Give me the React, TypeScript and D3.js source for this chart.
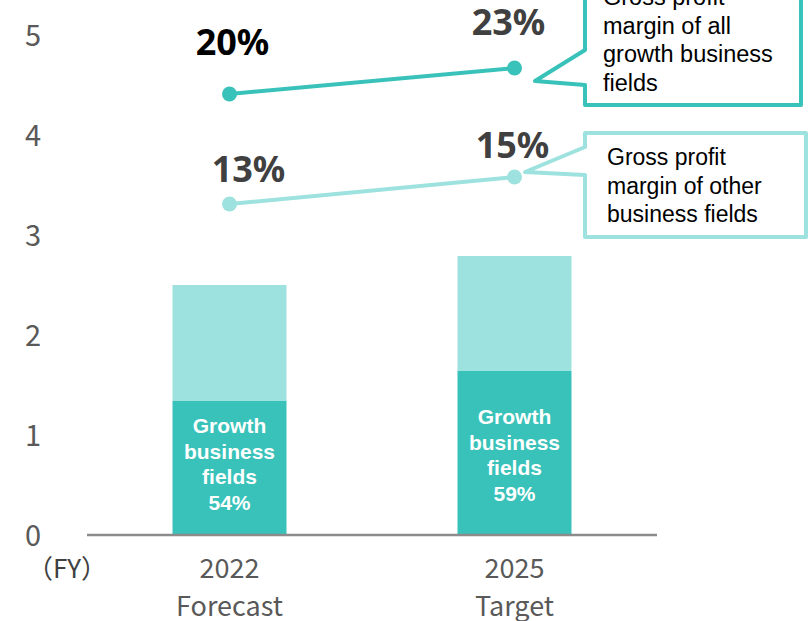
import React from "react";
import * as d3 from "d3";

// ---- data ----
const categories = ["2022", "2025"];
const categorySub = ["Forecast", "Target"];
const growthValues = [1.35, 1.65];
const otherValues = [1.16, 1.15];
const growthShareLabels = ["54%", "59%"];
const marginGrowthPos = [4.42, 4.68];
const marginGrowthLabels = ["20%", "23%"];
const marginOtherPos = [3.32, 3.59];
const marginOtherLabels = ["13%", "15%"];
const yTicks = [0, 1, 2, 3, 4, 5];
const calloutGrowthText = ["Gross profit", "margin of all", "growth business", "fields"];
const calloutOtherText = ["Gross profit", "margin of other", "business fields"];

// ---- style / layout ----
const W = 810;
const H = 621;
const DARK = "#38C2B9";
const LIGHT = "#9DE2DE";
const AXIS_FONT = "'Noto Sans CJK JP', 'Noto Sans', sans-serif";
const PCT_FONT = "'Noto Sans', 'Open Sans', sans-serif";
const TXT_FONT = "'Liberation Sans', Arial, sans-serif";
const growthLabelOffset = [
  { dx: 3, dy: -39, color: "#000000" },
  { dx: -6, dy: -33, color: "#404040" },
];
const otherLabelOffset = [
  { dx: 19, dy: -22, color: "#404040" },
  { dx: -2, dy: -19, color: "#404040" },
];
const innerLabelTop = [433, 424];

export default function App() {
  const x = d3.scalePoint<string>().domain(categories).range([87, 657]).padding(0.5);
  const step = x.step();
  const barW = step * 0.4;
  const y = d3.scaleLinear().domain([0, 5]).range([536, 36]);

  const lineGen = d3
    .line<[string, number]>()
    .x((d) => x(d[0]) as number)
    .y((d) => y(d[1]));

  const growthPts: [string, number][] = categories.map((c, i) => [c, marginGrowthPos[i]]);
  const otherPts: [string, number][] = categories.map((c, i) => [c, marginOtherPos[i]]);

  return (
    <svg
      width={W}
      height={H}
      viewBox={`0 0 ${W} ${H}`}
      style={{ position: "absolute", left: 0, top: 0, background: "#fff" }}
    >
      <rect x={0} y={0} width={W} height={H} fill="#ffffff" />
      {/* y tick labels */}
      {yTicks.map((t) => (
        <text
          key={t}
          x={33}
          y={y(t)}
          dy="0.36em"
          textAnchor="middle"
          fontFamily={AXIS_FONT}
          fontSize={29}
          fill="#595959"
        >
          {t}
        </text>
      ))}

      {/* bars */}
      {categories.map((c, i) => {
        const cx = x(c) as number;
        const g = growthValues[i];
        const o = otherValues[i];
        return (
          <g key={c}>
            <rect x={cx - barW / 2} y={y(g + o)} width={barW} height={y(g) - y(g + o)} fill={LIGHT} />
            <rect x={cx - barW / 2} y={y(g)} width={barW} height={y(0) - y(g)} fill={DARK} />
            {["Growth", "business", "fields", growthShareLabels[i]].map((s, k) => (
              <text
                key={k}
                x={cx}
                y={innerLabelTop[i] + k * 25.5}
                textAnchor="middle"
                fontFamily={TXT_FONT}
                fontWeight={700}
                fontSize={21}
                fill="#ffffff"
              >
                {s}
              </text>
            ))}
          </g>
        );
      })}

      {/* axis line */}
      <line x1={87} x2={657} y1={y(0) - 1} y2={y(0) - 1} stroke="#8C8C8C" strokeWidth={2.5} />

      {/* x labels */}
      <text x={67} y={578} textAnchor="middle" fontFamily={AXIS_FONT} fontSize={26} fill="#404040">
        （FY）
      </text>
      {categories.map((c, i) => (
        <g key={c}>
          <text x={x(c)} y={578} textAnchor="middle" fontFamily={AXIS_FONT} fontSize={27} fill="#595959">
            {c}
          </text>
          <text x={x(c)} y={616} textAnchor="middle" fontFamily={AXIS_FONT} fontSize={27} fill="#595959">
            {categorySub[i]}
          </text>
        </g>
      ))}

      {/* margin lines */}
      <path d={lineGen(growthPts) || ""} fill="none" stroke={DARK} strokeWidth={4} />
      <path d={lineGen(otherPts) || ""} fill="none" stroke={LIGHT} strokeWidth={4} />
      {growthPts.map((p, i) => (
        <circle key={"g" + i} cx={x(p[0])} cy={y(p[1])} r={7.5} fill={DARK} />
      ))}
      {otherPts.map((p, i) => (
        <circle key={"o" + i} cx={x(p[0])} cy={y(p[1])} r={7.5} fill={LIGHT} />
      ))}
      {growthPts.map((p, i) => (
        <text
          key={"gl" + i}
          x={(x(p[0]) as number) + growthLabelOffset[i].dx}
          y={y(p[1]) + growthLabelOffset[i].dy}
          textAnchor="middle"
          fontFamily={PCT_FONT}
          fontWeight={700}
          fontSize={36}
          fill={growthLabelOffset[i].color}
        >
          {marginGrowthLabels[i]}
        </text>
      ))}
      {otherPts.map((p, i) => (
        <text
          key={"ol" + i}
          x={(x(p[0]) as number) + otherLabelOffset[i].dx}
          y={y(p[1]) + otherLabelOffset[i].dy}
          textAnchor="middle"
          fontFamily={PCT_FONT}
          fontWeight={700}
          fontSize={36}
          fill={otherLabelOffset[i].color}
        >
          {marginOtherLabels[i]}
        </text>
      ))}

      {/* callout: growth */}
      <path
        d="M585,-60 L801,-60 L801,105 L585,105 L585,85 L535,81 L585,50 Z"
        fill="#ffffff"
        stroke={DARK}
        strokeWidth={4}
        strokeLinejoin="round"
      />
      {calloutGrowthText.map((s, k) => (
        <text key={k} x={603} y={5 + k * 28.5} fontFamily={TXT_FONT} fontSize={23.5} fill="#000000">
          {s}
        </text>
      ))}

      {/* callout: other */}
      <path
        d="M585,133 L806,133 L806,237 L585,237 L585,175 L525,172 L585,147 Z"
        fill="#ffffff"
        stroke={LIGHT}
        strokeWidth={4}
        strokeLinejoin="round"
      />
      {calloutOtherText.map((s, k) => (
        <text key={k} x={607} y={165 + k * 28.5} fontFamily={TXT_FONT} fontSize={23} fill="#000000">
          {s}
        </text>
      ))}
    </svg>
  );
}
